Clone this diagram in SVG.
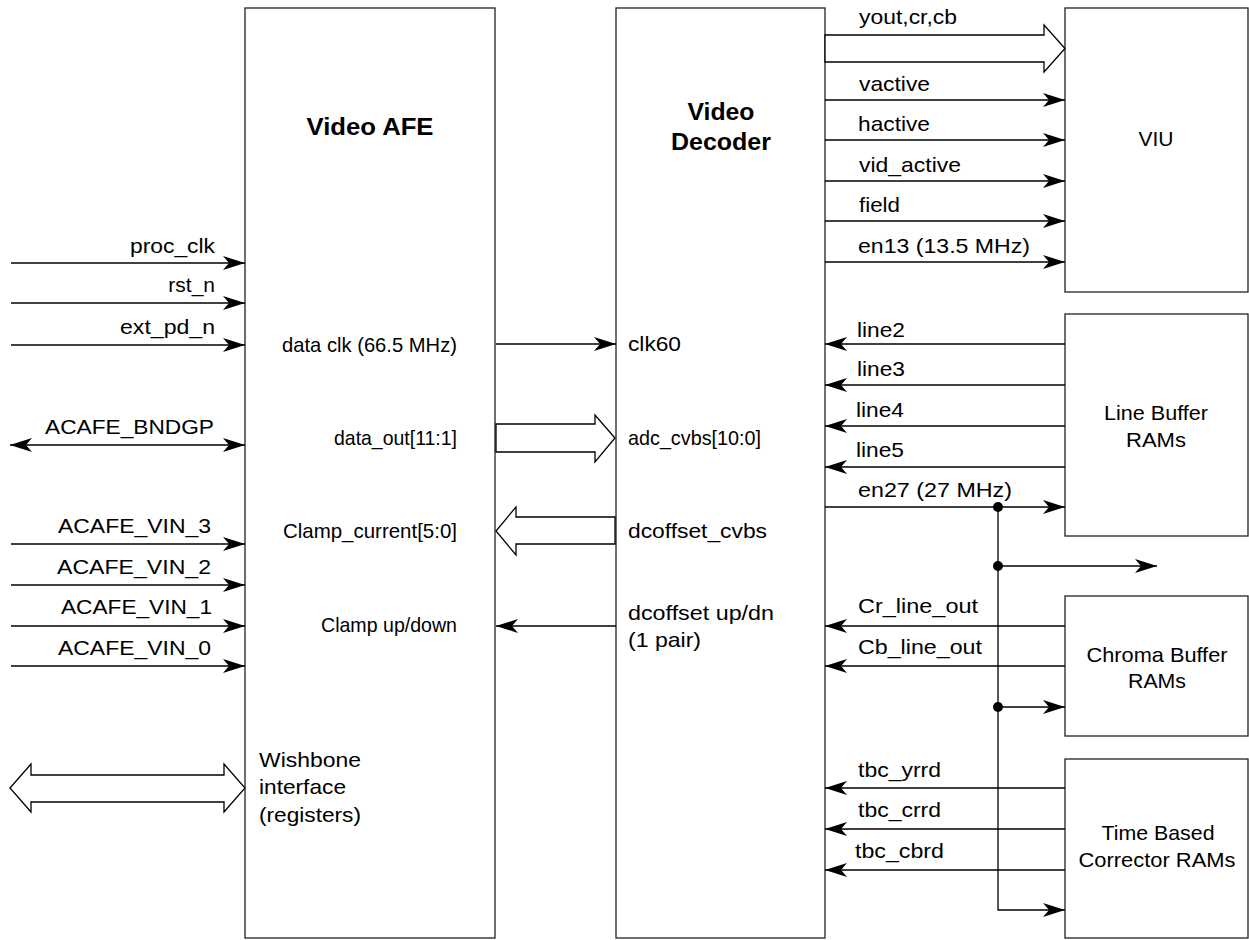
<svg xmlns="http://www.w3.org/2000/svg" width="1249" height="940" viewBox="0 0 1249 940">
<defs>
<style>
.box{fill:#fff;stroke:#222;stroke-width:1.3}
.w{fill:none;stroke:#000;stroke-width:1.3}
.arr{marker-end:url(#ah)}
.barr{fill:#fff;stroke:#000;stroke-width:1.3;stroke-linejoin:miter}
text{font-family:"Liberation Sans",Arial,Helvetica,sans-serif;font-size:21px;fill:#000}
.b{font-weight:bold;font-size:24px}
.r{text-anchor:end}
.c{text-anchor:middle}
.dot{fill:#000}
</style>
<marker id="ah" markerWidth="22" markerHeight="14" refX="22" refY="7" orient="auto-start-reverse" markerUnits="userSpaceOnUse">
<path d="M0,0 L22,7 L0,14 L6,7 z" fill="#000"/>
</marker>
</defs>
<rect width="1249" height="940" fill="#fff"/>

<g id="video-afe">
<rect class="box" x="245" y="8" width="250" height="930"/>
<text class="b c" x="370" y="135" textLength="127" lengthAdjust="spacingAndGlyphs">Video AFE</text>
<text class="r" x="457" y="352" textLength="175" lengthAdjust="spacingAndGlyphs">data clk (66.5 MHz)</text>
<text class="r" x="457" y="445" textLength="123" lengthAdjust="spacingAndGlyphs">data_out[11:1]</text>
<text class="r" x="457" y="538" textLength="174" lengthAdjust="spacingAndGlyphs">Clamp_current[5:0]</text>
<text class="r" x="457" y="632" textLength="136" lengthAdjust="spacingAndGlyphs">Clamp up/down</text>
<text x="259" y="767" textLength="102" lengthAdjust="spacingAndGlyphs">Wishbone</text>
<text x="259" y="794" textLength="87" lengthAdjust="spacingAndGlyphs">interface</text>
<text x="259" y="822" textLength="102" lengthAdjust="spacingAndGlyphs">(registers)</text>
</g>

<g id="video-decoder">
<rect class="box" x="616" y="8" width="209" height="930"/>
<text class="b c" x="721" y="120" textLength="67" lengthAdjust="spacingAndGlyphs">Video</text>
<text class="b c" x="721" y="150" textLength="100" lengthAdjust="spacingAndGlyphs">Decoder</text>
<text x="628" y="351" textLength="53" lengthAdjust="spacingAndGlyphs">clk60</text>
<text x="628" y="445" textLength="133" lengthAdjust="spacingAndGlyphs">adc_cvbs[10:0]</text>
<text x="628" y="538" textLength="139" lengthAdjust="spacingAndGlyphs">dcoffset_cvbs</text>
<text x="628" y="620" textLength="146" lengthAdjust="spacingAndGlyphs">dcoffset up/dn</text>
<text x="628" y="647" textLength="73" lengthAdjust="spacingAndGlyphs">(1 pair)</text>
</g>

<g id="viu">
<rect class="box" x="1065" y="8" width="183" height="284"/>
<text class="c" x="1156" y="146" textLength="35" lengthAdjust="spacingAndGlyphs">VIU</text>
</g>

<g id="line-buffer">
<rect class="box" x="1065" y="314" width="183" height="222"/>
<text class="c" x="1156" y="420" textLength="104" lengthAdjust="spacingAndGlyphs">Line Buffer</text>
<text class="c" x="1156" y="447" textLength="60" lengthAdjust="spacingAndGlyphs">RAMs</text>
</g>

<g id="chroma-buffer">
<rect class="box" x="1065" y="596" width="183" height="140"/>
<text class="c" x="1157" y="662" textLength="141" lengthAdjust="spacingAndGlyphs">Chroma Buffer</text>
<text class="c" x="1157" y="688" textLength="58" lengthAdjust="spacingAndGlyphs">RAMs</text>
</g>

<g id="tbc">
<rect class="box" x="1065" y="759" width="183" height="179"/>
<text class="c" x="1158" y="840" textLength="113" lengthAdjust="spacingAndGlyphs">Time Based</text>
<text class="c" x="1157" y="867" textLength="157" lengthAdjust="spacingAndGlyphs">Corrector RAMs</text>
</g>

<g id="connectors">
<!-- left inputs -->
<line class="w arr" x1="11" y1="263" x2="245" y2="263"/>
<line class="w arr" x1="11" y1="303" x2="245" y2="303"/>
<line class="w arr" x1="11" y1="345" x2="245" y2="345"/>
<line class="w arr" x1="10" y1="445" x2="245" y2="445" style="marker-start:url(#ah)"/>
<line class="w arr" x1="11" y1="544" x2="245" y2="544"/>
<line class="w arr" x1="11" y1="585" x2="245" y2="585"/>
<line class="w arr" x1="11" y1="626" x2="245" y2="626"/>
<line class="w arr" x1="11" y1="666" x2="245" y2="666"/>
<text class="r" x="215" y="253" textLength="85" lengthAdjust="spacingAndGlyphs">proc_clk</text>
<text class="r" x="215" y="292">rst_n</text>
<text class="r" x="215" y="334" textLength="95" lengthAdjust="spacingAndGlyphs">ext_pd_n</text>
<text class="r" x="214" y="434" textLength="169" lengthAdjust="spacingAndGlyphs">ACAFE_BNDGP</text>
<text class="r" x="211" y="533" textLength="153" lengthAdjust="spacingAndGlyphs">ACAFE_VIN_3</text>
<text class="r" x="211" y="574" textLength="154" lengthAdjust="spacingAndGlyphs">ACAFE_VIN_2</text>
<text class="r" x="212" y="614" textLength="151" lengthAdjust="spacingAndGlyphs">ACAFE_VIN_1</text>
<text class="r" x="211" y="655" textLength="153" lengthAdjust="spacingAndGlyphs">ACAFE_VIN_0</text>
<polygon class="barr" points="10,788 31,764 31,775 224,775 224,764 245,788 224,812 224,802 31,802 31,812"/>

<!-- AFE <-> decoder -->
<line class="w arr" x1="496" y1="344" x2="616" y2="344"/>
<polygon class="barr" points="496,424 595,424 595,415 615,438 595,462 595,452 496,452"/>
<polygon class="barr" points="615,517 516,517 516,507 496,531 516,555 516,544 615,544"/>
<line class="w arr" x1="616" y1="626" x2="496" y2="626"/>

<!-- decoder -> VIU -->
<polygon class="barr" points="825,35 1044,35 1044,25 1065,48.5 1044,72 1044,62 825,62"/>
<line class="w arr" x1="825" y1="100" x2="1065" y2="100"/>
<line class="w arr" x1="825" y1="140" x2="1065" y2="140"/>
<line class="w arr" x1="825" y1="181" x2="1065" y2="181"/>
<line class="w arr" x1="825" y1="221" x2="1065" y2="221"/>
<line class="w arr" x1="825" y1="262" x2="1065" y2="262"/>
<text x="859" y="24" textLength="98" lengthAdjust="spacingAndGlyphs">yout,cr,cb</text>
<text x="859" y="91" textLength="71" lengthAdjust="spacingAndGlyphs">vactive</text>
<text x="858" y="131" textLength="72" lengthAdjust="spacingAndGlyphs">hactive</text>
<text x="859" y="172" textLength="102" lengthAdjust="spacingAndGlyphs">vid_active</text>
<text x="859" y="212" textLength="41" lengthAdjust="spacingAndGlyphs">field</text>
<text x="858" y="253" textLength="172" lengthAdjust="spacingAndGlyphs">en13 (13.5 MHz)</text>

<!-- line buffer -->
<line class="w arr" x1="1065" y1="344" x2="825" y2="344"/>
<line class="w arr" x1="1065" y1="385" x2="825" y2="385"/>
<line class="w arr" x1="1065" y1="426" x2="825" y2="426"/>
<line class="w arr" x1="1065" y1="467" x2="825" y2="467"/>
<line class="w arr" x1="825" y1="507" x2="1065" y2="507"/>
<text x="857" y="337" textLength="48" lengthAdjust="spacingAndGlyphs">line2</text>
<text x="857" y="376" textLength="48" lengthAdjust="spacingAndGlyphs">line3</text>
<text x="856" y="417" textLength="48" lengthAdjust="spacingAndGlyphs">line4</text>
<text x="856" y="457" textLength="48" lengthAdjust="spacingAndGlyphs">line5</text>
<text x="858" y="497" textLength="154" lengthAdjust="spacingAndGlyphs">en27 (27 MHz)</text>

<!-- en27 distribution -->
<polyline class="w arr" points="998,507 998,910 1065,910"/>
<line class="w arr" x1="998" y1="566" x2="1157" y2="566"/>
<line class="w arr" x1="998" y1="707" x2="1065" y2="707"/>
<circle class="dot" cx="998" cy="507" r="5"/>
<circle class="dot" cx="998" cy="566" r="5"/>
<circle class="dot" cx="998" cy="707" r="5"/>

<!-- chroma buffer -->
<line class="w arr" x1="1065" y1="626" x2="825" y2="626"/>
<line class="w arr" x1="1065" y1="666" x2="825" y2="666"/>
<text x="858" y="613" textLength="120" lengthAdjust="spacingAndGlyphs">Cr_line_out</text>
<text x="858" y="654" textLength="124" lengthAdjust="spacingAndGlyphs">Cb_line_out</text>

<!-- TBC -->
<line class="w arr" x1="1065" y1="788" x2="825" y2="788"/>
<line class="w arr" x1="1065" y1="829" x2="825" y2="829"/>
<line class="w arr" x1="1065" y1="870" x2="825" y2="870"/>
<text x="858" y="777" textLength="83" lengthAdjust="spacingAndGlyphs">tbc_yrrd</text>
<text x="858" y="817" textLength="83" lengthAdjust="spacingAndGlyphs">tbc_crrd</text>
<text x="855" y="858" textLength="89" lengthAdjust="spacingAndGlyphs">tbc_cbrd</text>
</g>
</svg>
